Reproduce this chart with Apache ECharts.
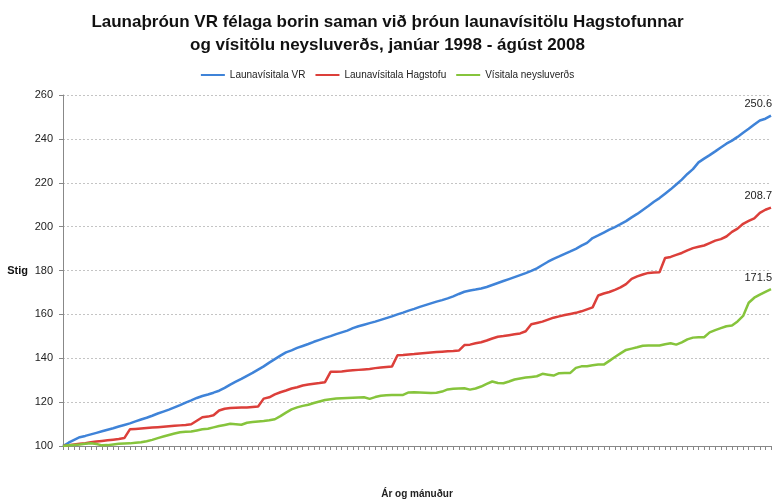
<!DOCTYPE html>
<html>
<head>
<meta charset="utf-8">
<script src="https://cdn.jsdelivr.net/npm/echarts@6/dist/echarts.min.js"></script>
<style>
  html, body { margin: 0; padding: 0; background: #fff; }
  #main { width: 775px; height: 500px; }
</style>
</head>
<body>
<div id="main"></div>
<script type="text/javascript">
    // mánuðir jan 1998 - ágúst 2008
    var manudir = [];
    for (var ar = 1998; ar <= 2008; ar++) {
        for (var m = 1; m <= 12; m++) {
            if (ar == 2008 && m > 8) break;
            manudir.push(ar + '-' + (m < 10 ? '0' + m : m));
        }
    }

    var launavisitalaVR = [
        100, 101.5, 102.8, 104, 104.6, 105.3, 106, 106.7, 107.4, 108.1, 108.9, 109.6,
        110.3, 111.2, 112.1, 112.9, 113.8, 114.8, 115.7, 116.6, 117.6, 118.6, 119.8, 120.8,
        121.9, 122.8, 123.5, 124.3, 125.2, 126.5, 128, 129.3, 130.6, 132, 133.3, 134.8,
        136.3, 138, 139.6, 141.2, 142.7, 143.6, 144.7, 145.6, 146.5, 147.5, 148.4, 149.3,
        150.1, 151, 151.8, 152.6, 153.7, 154.6, 155.3, 156, 156.7, 157.5, 158.3, 159.1,
        160, 160.8, 161.7, 162.5, 163.4, 164.2, 165, 165.8, 166.5, 167.3, 168.2, 169.3,
        170.3, 170.9, 171.3, 171.8, 172.5, 173.4, 174.3, 175.2, 176.1, 177, 177.9, 178.8,
        179.8, 181, 182.5, 184, 185.3, 186.4, 187.6, 188.7, 189.9, 191.3, 192.6, 194.8,
        196, 197.3, 198.6, 199.8, 201.1, 202.5, 204.2, 205.8, 207.6, 209.4, 211.3, 213,
        215, 217, 219.2, 221.4, 224, 226.2, 229.3, 231, 232.6, 234.3, 236.1, 237.8,
        239.2, 240.9, 242.8, 244.6, 246.5, 248.4, 249.2, 250.6
    ];
    var launavisitalaHagstofu = [
        100, 100.4, 100.7, 101, 101.3, 101.7, 102, 102.3, 102.6, 102.9, 103.2, 103.6,
        107.6, 107.8, 108, 108.2, 108.4, 108.6, 108.8, 109, 109.2, 109.4, 109.6, 109.9,
        111.5, 113.1, 113.4, 114, 116.2, 117, 117.3, 117.4, 117.5, 117.6, 117.8, 118,
        121.6, 122.2, 123.5, 124.5, 125.3, 126.2, 126.8, 127.6, 128, 128.4, 128.7, 129.1,
        133.8, 133.9, 134, 134.3, 134.5, 134.7, 134.9, 135.1, 135.5, 135.8, 136, 136.2,
        141.4, 141.5, 141.7, 141.9, 142.2, 142.4, 142.6, 142.8, 143, 143.2, 143.3, 143.5,
        146, 146.2, 146.8, 147.3, 148.1, 149, 149.8, 150.1, 150.5, 150.9, 151.3, 152.3,
        155.5, 156.1, 156.7, 157.6, 158.5, 159.1, 159.7, 160.2, 160.7, 161.4, 162.3, 163.2,
        168.6, 169.5, 170.2, 171.2, 172.3, 173.8, 176.2, 177.3, 178.2, 178.9, 179.1, 179.2,
        185.7, 186.2, 187.1, 188, 189.2, 190.2, 190.8, 191.4, 192.5, 193.6, 194.3, 195.5,
        197.6, 199.1, 201.3, 202.6, 203.8, 206.3, 207.7, 208.7
    ];
    var visitalaNeysluverds = [
        100, 100.3, 100.5, 100.7, 101, 101.3, 100.9, 100.3, 100.4, 100.7, 101, 101.1,
        101.2, 101.5, 101.7, 102.2, 102.8, 103.6, 104.3, 105, 105.7, 106.3, 106.5, 106.6,
        107.1, 107.6, 107.9, 108.5, 109.1, 109.6, 110.1, 109.9, 109.7, 110.6, 110.9, 111.2,
        111.4, 111.7, 112.2, 113.6, 115.2, 116.7, 117.6, 118.3, 118.8, 119.6, 120.3, 121,
        121.3, 121.6, 121.8, 121.9, 122, 122.1, 122.2, 121.5, 122.3, 122.9, 123.1, 123.2,
        123.2, 123.3, 124.4, 124.5, 124.4, 124.3, 124.2, 124.3, 124.8, 125.8, 126.1, 126.2,
        126.3, 125.7, 126.2, 127.1, 128.3, 129.4, 128.7, 128.6, 129.4, 130.3, 130.8, 131.2,
        131.5, 131.8, 132.9, 132.5, 132.1, 133.2, 133.3, 133.3, 135.6, 136.3, 136.4, 136.8,
        137.1, 137.1, 138.8, 140.6, 142.2, 143.8, 144.4, 145, 145.7, 145.8, 145.8, 145.8,
        146.4, 146.8, 146.2, 147.2, 148.6, 149.4, 149.6, 149.6, 151.8, 152.8, 153.7, 154.6,
        154.9, 156.8, 159.3, 165.3, 167.6, 169, 170.3, 171.5
    ];

    var leturgerd = '"Liberation Sans Narrow", "Liberation Sans", sans-serif';

    function lina(nafn, gogn, litur) {
        return {
            name: nafn,
            type: 'line',
            data: gogn,
            symbol: 'none',
            smooth: false,
            lineStyle: { color: litur, width: 2.5 },
            itemStyle: { color: litur },
            // gildið við síðasta punkt (hæsta gildið)
            markPoint: {
                symbol: 'circle',
                symbolSize: 0,
                data: [{ type: 'max' }],
                label: {
                    show: true,
                    position: 'top',
                    align: 'right',
                    offset: [1, -1],
                    color: '#222',
                    fontSize: 11,
                    fontFamily: leturgerd,
                    formatter: function (p) { return p.value.toFixed(1); }
                }
            }
        };
    }

    var myChart = echarts.init(document.getElementById('main'));

    myChart.setOption({
        backgroundColor: '#fff',
        animation: false,
        title: {
            text: 'Launaþróun VR félaga borin saman við þróun launavísitölu Hagstofunnar\nog vísitölu neysluverðs, janúar 1998 - ágúst 2008',
            left: 'center',
            top: 6,
            textStyle: {
                fontFamily: leturgerd,
                fontSize: 17,
                fontWeight: 'bold',
                color: '#111',
                lineHeight: 23
            }
        },
        legend: {
            top: 65,
            left: 'center',
            itemWidth: 24,
            itemHeight: 2,
            itemGap: 10,
            icon: 'rect',
            textStyle: { fontFamily: leturgerd, fontSize: 10, color: '#222' },
            data: ['Launavísitala VR', 'Launavísitala Hagstofu', 'Vísitala neysluverðs']
        },
        grid: {
            left: 63,
            right: 4,
            top: 95,
            bottom: 54,
            containLabel: false,
            outerBoundsMode: 'none'
        },
        xAxis: {
            type: 'category',
            data: manudir,
            boundaryGap: false,
            name: 'Ár og mánuður',
            nameLocation: 'middle',
            nameGap: 43,
            nameTextStyle: { fontFamily: leturgerd, fontSize: 10, fontWeight: 'bold', color: '#222' },
            axisLine: { lineStyle: { color: '#888', width: 1 } },
            axisTick: { show: true, interval: 0, length: 4, lineStyle: { color: '#888' } },
            axisLabel: { show: false },
            splitLine: { show: false }
        },
        yAxis: {
            type: 'value',
            min: 100,
            max: 260,
            interval: 20,
            name: 'Stig',
            nameLocation: 'middle',
            nameRotate: 0,
            nameGap: 35,
            nameTextStyle: { fontFamily: leturgerd, fontSize: 11, fontWeight: 'bold', color: '#111' },
            axisLine: { show: true, lineStyle: { color: '#888', width: 1 } },
            axisTick: { show: true, length: 4, lineStyle: { color: '#888' } },
            axisLabel: { fontFamily: leturgerd, fontSize: 11, color: '#222', margin: 10 },
            splitLine: { show: true, lineStyle: { color: '#c4c4c4', type: [2, 2], width: 1 } }
        },
        series: [
            lina('Launavísitala VR', launavisitalaVR, '#3f83d8'),
            lina('Launavísitala Hagstofu', launavisitalaHagstofu, '#dc3f3a'),
            lina('Vísitala neysluverðs', visitalaNeysluverds, '#86c43c')
        ]
    });
</script>
</body>
</html>
